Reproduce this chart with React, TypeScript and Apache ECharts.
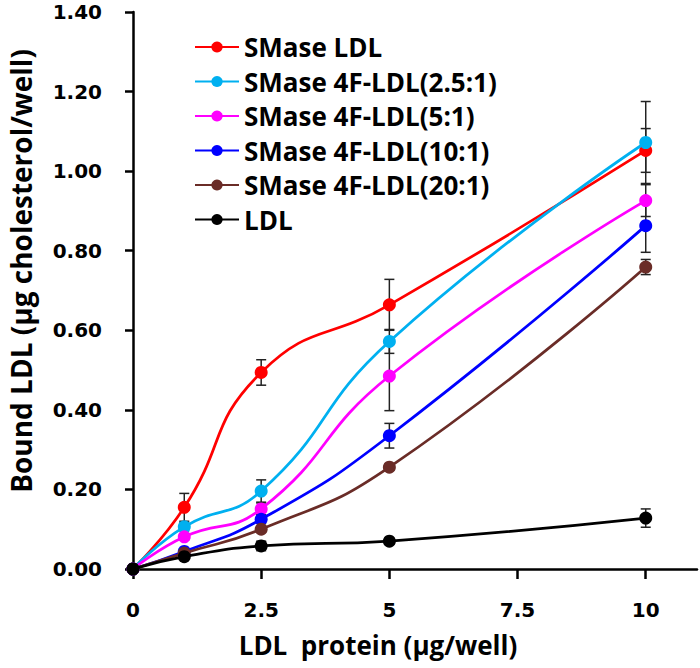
import React, { useEffect, useRef } from "react";
import * as echarts from "echarts";

const xValues = [0, 1, 2.5, 5, 10];
const xTicks = [0, 2.5, 5, 7.5, 10];
const yTicks = [0, 0.2, 0.4, 0.6, 0.8, 1.0, 1.2, 1.4];

const seriesNames = [
  "SMase LDL",
  "SMase 4F-LDL(2.5:1)",
  "SMase 4F-LDL(5:1)",
  "SMase 4F-LDL(10:1)",
  "SMase 4F-LDL(20:1)",
  "LDL",
];
const seriesColors = ["#FF0000", "#00B0F0", "#FF00FF", "#0000FF", "#6A2C27", "#000000"];

const smaseLdl = [0, 0.155, 0.494, 0.664, 1.052];
const smase4f25 = [0, 0.106, 0.196, 0.572, 1.072];
const smase4f5 = [0, 0.081, 0.151, 0.485, 0.926];
const smase4f10 = [0, 0.044, 0.125, 0.335, 0.863];
const smase4f20 = [0, 0.04, 0.1, 0.256, 0.759];
const ldl = [0, 0.031, 0.058, 0.07, 0.128];

const errSmaseLdl = [0, 0.035, 0.032, 0.064, 0.055];
const errSmase4f25 = [0, 0.01, 0.028, 0.03, 0.103];
const errSmase4f5 = [0, 0.008, 0.015, 0.087, 0.04];
const errSmase4f10 = [0, 0.005, 0.01, 0.031, 0.067];
const errSmase4f20 = [0, 0.005, 0.006, 0.008, 0.019];
const errLdl = [0, 0.005, 0.012, 0.008, 0.023];

const allValues = [smaseLdl, smase4f25, smase4f5, smase4f10, smase4f20, ldl];
const allErrors = [errSmaseLdl, errSmase4f25, errSmase4f5, errSmase4f10, errSmase4f20, errLdl];

const xTitle = "LDL  protein (μg/well)";
const yTitle = "Bound LDL (μg cholesterol/well)";

export default function App() {
  const ref = useRef<HTMLDivElement>(null);

  useEffect(() => {
    if (!ref.current) return;
    const chart = echarts.init(ref.current, null, { renderer: "svg" });

    const errorSeries = allValues.map((vals, si) => ({
      type: "custom",
      name: seriesNames[si] + " err",
      z: 1,
      silent: true,
      data: xValues
        .map((x, i) => [x, vals[i] - allErrors[si][i], vals[i] + allErrors[si][i], allErrors[si][i]])
        .filter((d) => d[3] > 0),
      encode: { x: 0, y: [1, 2] },
      renderItem: (params: any, api: any) => {
        const x = api.value(0);
        const lo = api.coord([x, api.value(1)]);
        const hi = api.coord([x, api.value(2)]);
        const hw = 5;
        const style = { stroke: "#222", lineWidth: 1.5 };
        return {
          type: "group",
          children: [
            { type: "line", shape: { x1: hi[0], y1: hi[1], x2: lo[0], y2: lo[1] }, style },
            { type: "line", shape: { x1: hi[0] - hw, y1: hi[1], x2: hi[0] + hw, y2: hi[1] }, style },
            { type: "line", shape: { x1: lo[0] - hw, y1: lo[1], x2: lo[0] + hw, y2: lo[1] }, style },
          ],
        };
      },
    }));

    const lineSeries = allValues.map((vals, si) => ({
      type: "line",
      name: seriesNames[si],
      z: 2 + si,
      smooth: 0.5,
      symbol: "circle",
      symbolSize: 13,
      data: xValues.map((x, i) => [x, vals[i]]),
      lineStyle: { color: seriesColors[si], width: 2.75 },
      itemStyle: { color: seriesColors[si] },
    }));

    chart.setOption({
      animation: false,
      backgroundColor: "#ffffff",
      grid: { left: 133, right: 3, top: 12, bottom: 99 },
      legend: {
        data: seriesNames,
        orient: "vertical",
        left: 189,
        top: 27,
        itemWidth: 44,
        itemHeight: 14,
        itemGap: 4.5,
        textStyle: {
          fontFamily: "Open Sans",
          fontWeight: "bold",
          fontSize: 26,
          lineHeight: 30,
          color: "#000",
        },
      },
      xAxis: {
        type: "value",
        min: 0,
        max: 11,
        interval: 2.5,
        splitLine: { show: false },
        axisLine: { lineStyle: { color: "#000", width: 2.5 } },
        axisTick: {
          customValues: xTicks,
          length: 10,
          lineStyle: { color: "#000", width: 2.5 },
        },
        axisLabel: {
          customValues: xTicks,
          margin: 31,
          fontFamily: "DejaVu Sans",
          fontWeight: "bold",
          fontSize: 20,
          color: "#000",
        },
      },
      yAxis: {
        type: "value",
        min: 0,
        max: 1.4,
        interval: 0.2,
        splitLine: { show: false },
        axisLine: { show: true, lineStyle: { color: "#000", width: 2.5 } },
        axisTick: {
          show: true,
          customValues: yTicks,
          length: 8,
          lineStyle: { color: "#000", width: 2.5 },
        },
        axisLabel: {
          customValues: yTicks,
          margin: 31,
          formatter: (v: number) => v.toFixed(2),
          fontFamily: "DejaVu Sans",
          fontWeight: "bold",
          fontSize: 20,
          color: "#000",
        },
      },
      graphic: [
        {
          type: "text",
          x: 378,
          y: 645,
          style: {
            text: xTitle,
            fontFamily: "Open Sans",
            fontWeight: "bold",
            fontSize: 26,
            fill: "#000",
            textAlign: "center",
            textVerticalAlign: "middle",
          },
        },
        {
          type: "text",
          x: 21,
          y: 271,
          rotation: Math.PI / 2,
          style: {
            text: yTitle,
            fontFamily: "Open Sans",
            fontWeight: "bold",
            fontSize: 28,
            fill: "#000",
            textAlign: "center",
            textVerticalAlign: "middle",
          },
        },
      ],
      series: [...errorSeries, ...lineSeries],
    });

    return () => chart.dispose();
  }, []);

  return (
    <div
      ref={ref}
      style={{ position: "fixed", left: 0, top: 0, width: 700, height: 668, background: "#fff" }}
    />
  );
}
